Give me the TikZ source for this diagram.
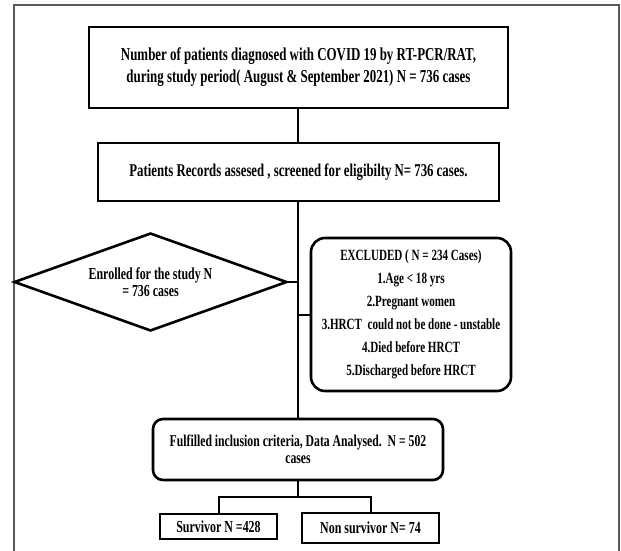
\documentclass[tikz,border=0pt]{standalone}
\usepackage{fontspec}
\setmainfont{Liberation Serif}[FakeStretch=0.71]
\usetikzlibrary{shapes.geometric}
\begin{document}
\begin{tikzpicture}[x=1pt,y=-1pt,
  box/.style={draw=black,line width=2.6pt,rectangle,inner sep=0pt,align=center,font=\bfseries},
  rbox/.style={box,rounded corners=14pt},
  conn/.style={draw=black,line width=2pt}]
\useasboundingbox (0,0) rectangle (621,551);
\fill[white] (0,0) rectangle (621,551);
\draw[gray!70!black,line width=1.5pt] (14,551) -- (14,5) -- (619,5) -- (619,551);

\node[box,minimum width=419pt,minimum height=81pt,font=\bfseries\fontsize{18.2}{22}\selectfont] (b1) at (298.5,67.5)
  {Number of patients diagnosed with COVID 19 by RT-PCR/RAT,\\during study period( August \& September 2021) N = 736 cases};
\node[box,minimum width=401pt,minimum height=58pt,font=\bfseries\fontsize{18}{20}\selectfont] (b2) at (298.5,172)
  {Patients Records assesed , screened for eligibilty N= 736 cases.};
\node[draw=black,line width=2.6pt,diamond,aspect=2.786,minimum width=273pt,minimum height=98pt,inner sep=0pt,align=center,font=\bfseries\fontsize{16.8}{17.5}\selectfont] (d) at (150.5,282)
  {Enrolled for the study N\\= 736 cases};
\node[rbox,minimum width=200pt,minimum height=153pt,font=\bfseries\fontsize{15.6}{23}\selectfont] (ex) at (411,314.5)
  {EXCLUDED ( N = 234 Cases)\\1.Age < 18 yrs\\2.Pregnant women\\3.HRCT\ \ could not be done - unstable\\4.Died before HRCT\\5.Discharged before HRCT};
\node[rbox,rounded corners=10pt,minimum width=290pt,minimum height=61pt,font=\bfseries\fontsize{16.5}{17}\selectfont] (f) at (298,449.5)
  {Fulfilled inclusion criteria, Data Analysed.\ \ N = 502\\cases};
\node[box,minimum width=117pt,minimum height=25pt,font=\bfseries\fontsize{16.8}{16}\selectfont] (s) at (218.5,526.5) {Survivor N =428};
\node[box,minimum width=137pt,minimum height=30pt,font=\bfseries\fontsize{16.8}{16}\selectfont] (ns) at (370.5,528) {Non survivor N= 74};

\coordinate (jd) at (298,282);
\coordinate (je) at (298,314.5);
\coordinate (jb) at (298,497);
\draw[conn] (b1.south -| 298,0) -- (b2.north -| 298,0);
\draw[conn] (b2.south -| 298,0) -- (f.north -| 298,0);
\draw[conn] (d.east) -- (jd);
\draw[conn] (je) -- (ex.west);
\draw[conn] (f.south) -- (jb);
\draw[conn] (s.north) |- (jb) -| (ns.north);
\end{tikzpicture}
\end{document}
